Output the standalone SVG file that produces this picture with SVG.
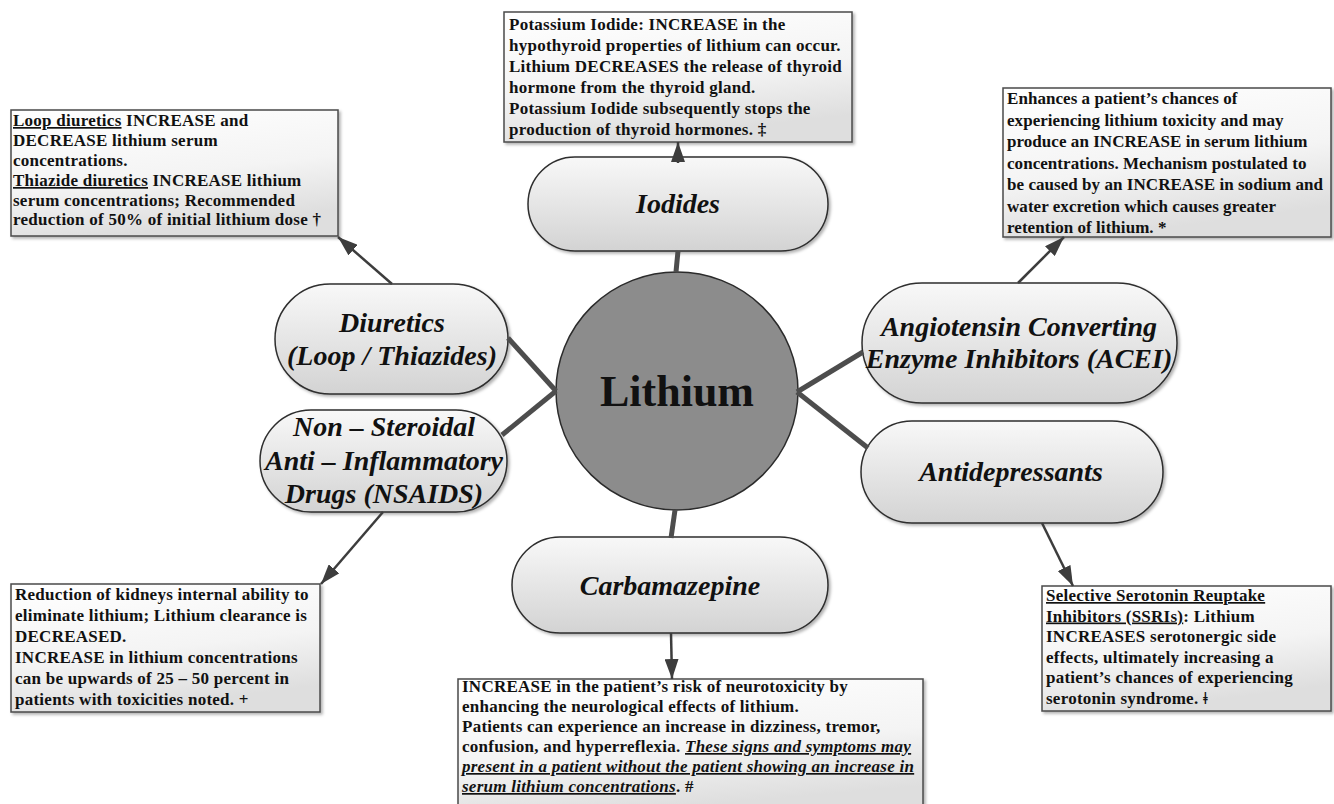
<svg xmlns="http://www.w3.org/2000/svg" width="1334" height="804" viewBox="0 0 1334 804">
<style>
.box{fill:url(#gBox);stroke:#4a4a4a;stroke-width:1.5;filter:url(#sh)}
.node{fill:url(#gNode);stroke:#2e2e2e;stroke-width:1.5;filter:url(#sh)}
.bt{font-family:'Liberation Serif','Times New Roman',serif;font-weight:bold;font-size:17px;letter-spacing:0.25px;fill:#111}
.tight{letter-spacing:0.05px}
.nt{font-family:'Liberation Serif','Times New Roman',serif;font-weight:bold;font-style:italic;font-size:28px;text-anchor:middle;fill:#111}
.u{text-decoration:underline}
.iu{font-style:italic;text-decoration:underline}
.conn{stroke:#4d4d4d;stroke-width:5;fill:none}
.arr{stroke:#3d3d3d;stroke-width:2.5;fill:none;marker-end:url(#ah)}
</style>
<defs>
<linearGradient id="gNode" x1="0" y1="0" x2="0" y2="1">
<stop offset="0" stop-color="#f8f8f8"/>
<stop offset="1" stop-color="#d3d3d3"/>
</linearGradient>
<linearGradient id="gBox" x1="0" y1="0" x2="0.3" y2="1">
<stop offset="0" stop-color="#ffffff"/>
<stop offset="0.6" stop-color="#f4f4f4"/>
<stop offset="1" stop-color="#dedede"/>
</linearGradient>
<filter id="sh" x="-10%" y="-10%" width="120%" height="130%">
<feDropShadow dx="2" dy="2" stdDeviation="1.5" flood-color="#000" flood-opacity="0.3"/>
</filter>
<marker id="ah" markerUnits="userSpaceOnUse" markerWidth="20" markerHeight="14" refX="20" refY="7" orient="auto">
<path d="M0,0 L20,7 L0,14 z" fill="#3d3d3d"/>
</marker>
</defs>
<rect width="1334" height="804" fill="#ffffff"/>

<g id="lithium">
<ellipse cx="677" cy="391" rx="121" ry="119" fill="#8c8c8c" stroke="#2b2b2b" stroke-width="1.5"/>
<text x="677" y="406" text-anchor="middle" style="font-family:'Liberation Serif','Times New Roman',serif;font-weight:bold;font-size:44px;fill:#111">Lithium</text>
</g>

<g id="iodides">
<rect class="node" x="528" y="157" width="300" height="94" rx="47"/>
<text class="nt" x="678" y="213">Iodides</text>
</g>

<g id="diuretics">
<rect class="node" x="275" y="284" width="233" height="110" rx="55"/>
<text class="nt" x="392" y="332">Diuretics</text>
<text class="nt" x="392" y="365">(Loop / Thiazides)</text>
</g>

<g id="nsaids">
<rect class="node" x="260" y="410" width="247" height="102" rx="51"/>
<text class="nt" x="384" y="436">Non – Steroidal</text>
<text class="nt" x="384" y="470">Anti – Inflammatory</text>
<text class="nt" x="384" y="503">Drugs (NSAIDS)</text>
</g>

<g id="acei">
<rect class="node" x="862" y="283" width="315" height="120" rx="60"/>
<text class="nt" x="1019" y="336">Angiotensin Converting</text>
<text class="nt" x="1019" y="368">Enzyme Inhibitors (ACEI)</text>
</g>

<g id="antidepressants">
<rect class="node" x="861" y="421" width="302" height="102" rx="51"/>
<text class="nt" x="1011" y="481">Antidepressants</text>
</g>

<g id="carbamazepine">
<rect class="node" x="512" y="537" width="316" height="96" rx="48"/>
<text class="nt" x="670" y="595">Carbamazepine</text>
</g>

<g id="box-iodides">
<rect class="box" x="504" y="12" width="348" height="130"/>
<text class="bt" x="509" y="30">Potassium Iodide: INCREASE in the</text>
<text class="bt" x="509" y="51">hypothyroid properties of lithium can occur.</text>
<text class="bt" x="509" y="72">Lithium DECREASES the release of thyroid</text>
<text class="bt" x="509" y="93">hormone from the thyroid gland.</text>
<text class="bt" x="509" y="114">Potassium Iodide subsequently stops the</text>
<text class="bt" x="509" y="135">production of thyroid hormones. ‡</text>
</g>

<g id="box-diuretics">
<rect class="box" x="11" y="110" width="327" height="126"/>
<text class="bt" x="13" y="126"><tspan class="u">Loop diuretics</tspan> INCREASE and</text>
<text class="bt" x="13" y="146">DECREASE lithium serum</text>
<text class="bt" x="13" y="166">concentrations.</text>
<text class="bt" x="13" y="186"><tspan class="u">Thiazide diuretics</tspan> INCREASE lithium</text>
<text class="bt" x="13" y="205.5">serum concentrations; Recommended</text>
<text class="bt" x="13" y="225">reduction of 50% of initial lithium dose †</text>
</g>

<g id="box-acei">
<rect class="box" x="1003" y="88" width="328" height="149"/>
<text class="bt tight" x="1007" y="104">Enhances a patient’s chances of</text>
<text class="bt tight" x="1007" y="125.5">experiencing lithium toxicity and may</text>
<text class="bt tight" x="1007" y="147">produce an INCREASE in serum lithium</text>
<text class="bt tight" x="1007" y="168.5">concentrations. Mechanism postulated to</text>
<text class="bt tight" x="1007" y="190">be caused by an INCREASE in sodium and</text>
<text class="bt tight" x="1007" y="211.5">water excretion which causes greater</text>
<text class="bt tight" x="1007" y="233">retention of lithium. *</text>
</g>

<g id="box-nsaids">
<rect class="box" x="11" y="584" width="309" height="128"/>
<text class="bt" x="15" y="600">Reduction of kidneys internal ability to</text>
<text class="bt" x="15" y="621">eliminate lithium; Lithium clearance is</text>
<text class="bt" x="15" y="642">DECREASED.</text>
<text class="bt" x="15" y="663">INCREASE in lithium concentrations</text>
<text class="bt" x="15" y="684">can be upwards of 25 – 50 percent in</text>
<text class="bt" x="15" y="705">patients with toxicities noted. +</text>
</g>

<g id="box-carbamazepine">
<rect class="box" x="458" y="679" width="465" height="135"/>
<text class="bt" x="462" y="692">INCREASE in the patient’s risk of neurotoxicity by</text>
<text class="bt" x="462" y="712">enhancing the neurological effects of lithium.</text>
<text class="bt" x="462" y="732">Patients can experience an increase in dizziness, tremor,</text>
<text class="bt" x="462" y="752">confusion, and hyperreflexia. <tspan class="iu">These signs and symptoms may</tspan></text>
<text class="bt" x="462" y="772"><tspan class="iu">present in a patient without the patient showing an increase in</tspan></text>
<text class="bt" x="462" y="792"><tspan class="iu">serum lithium concentrations</tspan>. #</text>
</g>

<g id="box-antidepressants">
<rect class="box" x="1042" y="586" width="289" height="125"/>
<text class="bt" x="1046" y="601"><tspan class="u">Selective Serotonin Reuptake</tspan></text>
<text class="bt" x="1046" y="621.5"><tspan class="u">Inhibitors (SSRIs)</tspan>: Lithium</text>
<text class="bt" x="1046" y="642">INCREASES serotonergic side</text>
<text class="bt" x="1046" y="662.5">effects, ultimately increasing a</text>
<text class="bt" x="1046" y="683">patient’s chances of experiencing</text>
<text class="bt" x="1046" y="703.5">serotonin syndrome. ǂ</text>
</g>

<g id="connectors">
<line class="conn" x1="676" y1="272" x2="678" y2="251"/>
<line class="conn" x1="556" y1="391" x2="508" y2="338"/>
<line class="conn" x1="556" y1="391" x2="502" y2="435"/>
<line class="conn" x1="797" y1="392" x2="863" y2="352"/>
<line class="conn" x1="797" y1="392" x2="868" y2="448"/>
<line class="conn" x1="675" y1="510" x2="671" y2="538"/>
<line class="arr" x1="678" y1="163" x2="678" y2="142"/>
<line class="arr" x1="392" y1="284" x2="338" y2="237"/>
<line class="arr" x1="383" y1="512" x2="321" y2="584"/>
<line class="arr" x1="1018" y1="283" x2="1064" y2="237"/>
<line class="arr" x1="1042" y1="523" x2="1073" y2="586"/>
<line class="arr" x1="671" y1="633" x2="672" y2="679"/>
</g>
</svg>
